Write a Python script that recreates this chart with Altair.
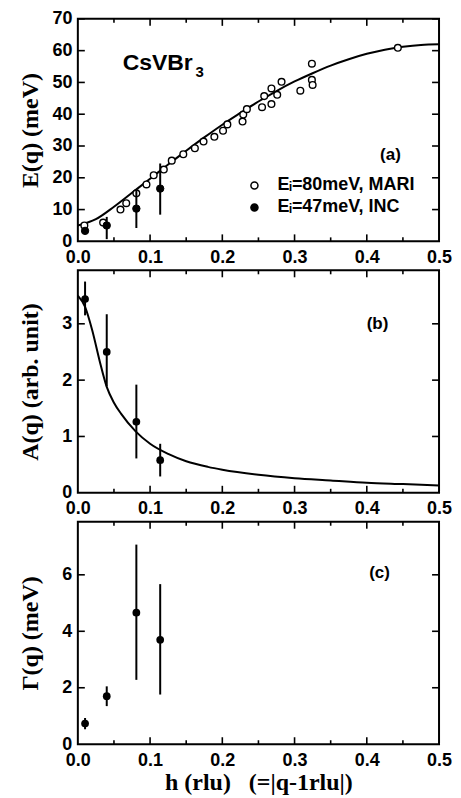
import altair as alt
import pandas as pd

# ---------------- data ----------------
# panel (a): MARI open circles
mari_h = [0.009, 0.035, 0.059, 0.067, 0.081, 0.095, 0.105, 0.119, 0.130, 0.146,
          0.162, 0.174, 0.189, 0.201, 0.207, 0.228, 0.229, 0.234, 0.255, 0.258,
          0.268, 0.268, 0.276, 0.282, 0.308, 0.324, 0.324, 0.325, 0.443]
mari_e = [5.0, 5.9, 10.0, 12.0, 15.1, 17.9, 20.8, 22.6, 25.4, 27.4,
          29.3, 31.4, 32.9, 34.8, 36.8, 37.7, 39.9, 41.6, 42.2, 45.7,
          43.2, 48.1, 46.1, 50.2, 47.4, 55.9, 50.8, 49.2, 60.9]

# INC filled circles (shared h for all panels)
inc_h = [0.010, 0.040, 0.081, 0.114]
inc_e = [3.3, 5.0, 10.3, 16.6]
inc_e_lo = [2.3, 0.7, 4.2, 8.4]
inc_e_hi = [4.3, 7.7, 16.1, 24.5]

# dispersion curve (a)
curve_h = [0.0, 0.025, 0.05, 0.075, 0.1, 0.125, 0.15, 0.175, 0.2, 0.225, 0.25,
           0.275, 0.3, 0.325, 0.35, 0.375, 0.4, 0.425, 0.45, 0.475, 0.5]
curve_e = [5.0, 7.0, 10.9, 15.3, 19.7, 24.2, 28.5, 32.7, 36.7, 40.4, 44.0,
           47.3, 50.3, 52.9, 55.3, 57.3, 59.0, 60.3, 61.2, 61.8, 62.0]

# panel (b): amplitude
amp = [3.44, 2.50, 1.26, 0.58]
amp_lo = [3.15, 1.89, 0.61, 0.29]
amp_hi = [3.75, 3.17, 1.92, 0.87]
amp_curve_h = [0.0, 0.01, 0.02, 0.03, 0.04, 0.05, 0.06, 0.08, 0.10, 0.125, 0.15,
               0.18, 0.2, 0.25, 0.3, 0.35, 0.4, 0.45, 0.5]
amp_curve = [3.5, 3.30, 2.88, 2.35, 1.88, 1.60, 1.40, 1.09, 0.87, 0.69, 0.56,
             0.46, 0.41, 0.32, 0.26, 0.22, 0.18, 0.155, 0.13]

# panel (c): width
gam = [0.73, 1.70, 4.66, 3.70]
gam_lo = [0.53, 1.35, 2.28, 1.76]
gam_hi = [0.93, 2.05, 7.07, 5.67]

series_names = ["E\u1d62=80meV, MARI", "E\u1d62=47meV, INC"]

x_labels = [0.0, 0.1, 0.2, 0.3, 0.4, 0.5]
x_major = [0.1, 0.2, 0.3, 0.4]
x_minor = [0.05, 0.15, 0.25, 0.35, 0.45]
ya_ticks = [0, 10, 20, 30, 40, 50, 60, 70]
yb_ticks = [0, 1, 2, 3]
yc_ticks = [0, 2, 4, 6]

# ---------------- layout ----------------
W, H = 362, 223
SANS = "Liberation Sans"
SERIF = "Liberation Serif"

xs = alt.Scale(domain=[0, 0.5], nice=False, zero=False)

AX_COMMON = dict(ticks=False, tickSize=0, domain=False, grid=False,
                 labelFont=SANS, labelFontWeight="bold", labelFontSize=18,
                 labelColor="black", titleFont=SERIF, titleFontWeight="bold",
                 titleFontSize=24, titleColor="black", labelOverlap=False)


def make_x_axis(title):
    return alt.Axis(values=x_labels, format=".1f", title=title, labelFlush=False,
                    labelPadding=7, titlePadding=1, **AX_COMMON)


def make_y_axis(title, vals):
    return alt.Axis(values=vals, format="d", title=title, minExtent=30, maxExtent=30,
                    labelPadding=6, titlePadding=5, **AX_COMMON)


def make_panel(main_layers_fn, ys, yvals, xaxis, yaxis):
    X = lambda f: alt.X(f, type="quantitative", scale=xs, axis=xaxis)
    Y = lambda f: alt.Y(f, type="quantitative", scale=ys, axis=yaxis)
    layers = main_layers_fn(X, Y)
    dM = pd.DataFrame({"v": x_major})
    dm = pd.DataFrame({"v": x_minor})
    dy = pd.DataFrame({"v": [v for v in yvals if 0 < v]})
    kw = dict(color="black", strokeWidth=1.6)
    for d, ln in [(dM, 7), (dm, 4)]:
        layers.append(alt.Chart(d).mark_rule(**kw).encode(
            x=X("v"), y=alt.value(H), y2=alt.value(H - ln)))
        layers.append(alt.Chart(d).mark_rule(**kw).encode(
            x=X("v"), y=alt.value(0), y2=alt.value(ln)))
    layers.append(alt.Chart(dy).mark_rule(**kw).encode(
        y=Y("v"), x=alt.value(0), x2=alt.value(7)))
    layers.append(alt.Chart(dy).mark_rule(**kw).encode(
        y=Y("v"), x=alt.value(W - 7), x2=alt.value(W)))
    return alt.layer(*layers).properties(
        width=W, height=H, view=alt.ViewBackground(stroke="black", strokeWidth=2))


def label_text(df, X, Y, size, align="center", baseline="middle"):
    return alt.Chart(df).mark_text(font=SANS, fontWeight="bold", fontSize=size,
                                   align=align, baseline=baseline,
                                   color="black").encode(
        x=X("x"), y=Y("y"), text="t:N")


# ---------------- panel (a) ----------------
ysa = alt.Scale(domain=[0, 70], nice=False, zero=False)
df_curve_a = pd.DataFrame({"h": curve_h, "e": curve_e})
df_mari = pd.DataFrame({"h": mari_h, "e": mari_e, "s": series_names[0]})
df_inc = pd.DataFrame({"h": inc_h, "e": inc_e, "lo": inc_e_lo, "hi": inc_e_hi,
                       "s": series_names[1]})
fill_scale = alt.Scale(domain=series_names, range=["white", "black"])
legend_a = alt.Legend(orient="none", legendX=168, legendY=158, title=None,
                      labelFont=SANS, labelFontWeight="bold", labelFontSize=18,
                      labelColor="black", symbolType="circle", symbolSize=50,
                      symbolStrokeColor="black", symbolStrokeWidth=1.5,
                      rowPadding=4, labelOffset=14, padding=0)


def layers_a(X, Y):
    return [
        alt.Chart(df_curve_a).mark_line(color="black", strokeWidth=2,
                                        interpolate="monotone").encode(x=X("h"), y=Y("e")),
        alt.Chart(df_mari).mark_circle(size=45, stroke="black", strokeWidth=1.4,
                                       opacity=1).encode(
            x=X("h"), y=Y("e"), fill=alt.Fill("s:N", scale=fill_scale, legend=legend_a)),
        alt.Chart(df_inc).mark_rule(color="black", strokeWidth=2).encode(
            x=X("h"), y=Y("lo"), y2="hi:Q"),
        alt.Chart(df_inc).mark_circle(size=55, stroke="black", strokeWidth=1,
                                      opacity=1).encode(
            x=X("h"), y=Y("e"), fill=alt.Fill("s:N", scale=fill_scale, legend=legend_a)),
        label_text(pd.DataFrame({"x": [0.062], "y": [53.9], "t": ["CsVBr"]}), X, Y, 23,
                   align="left", baseline="alphabetic"),
        label_text(pd.DataFrame({"x": [0.163], "y": [51.6], "t": ["3"]}), X, Y, 15,
                   align="left", baseline="alphabetic"),
        label_text(pd.DataFrame({"x": [0.4327], "y": [27.3], "t": ["(a)"]}), X, Y, 17),
    ]


panel_a = make_panel(layers_a, ysa, ya_ticks, make_x_axis(None),
                     make_y_axis("E(q) (meV)", ya_ticks))

# ---------------- panel (b) ----------------
ysb = alt.Scale(domain=[0, 3.95], nice=False, zero=False)
df_curve_b = pd.DataFrame({"h": amp_curve_h, "a": amp_curve})
df_b = pd.DataFrame({"h": inc_h, "a": amp, "lo": amp_lo, "hi": amp_hi})


def layers_b(X, Y):
    return [
        alt.Chart(df_curve_b).mark_line(color="black", strokeWidth=2,
                                        interpolate="monotone").encode(x=X("h"), y=Y("a")),
        alt.Chart(df_b).mark_rule(color="black", strokeWidth=2).encode(
            x=X("h"), y=Y("lo"), y2="hi:Q"),
        alt.Chart(df_b).mark_circle(size=60, color="black", opacity=1).encode(
            x=X("h"), y=Y("a")),
        label_text(pd.DataFrame({"x": [0.4148], "y": [2.99], "t": ["(b)"]}), X, Y, 17),
    ]


panel_b = make_panel(layers_b, ysb, yb_ticks, make_x_axis(None),
                     make_y_axis("A(q) (arb. unit)", yb_ticks))

# ---------------- panel (c) ----------------
ysc = alt.Scale(domain=[0, 7.88], nice=False, zero=False)
df_c = pd.DataFrame({"h": inc_h, "g": gam, "lo": gam_lo, "hi": gam_hi})


def layers_c(X, Y):
    return [
        alt.Chart(df_c).mark_rule(color="black", strokeWidth=2).encode(
            x=X("h"), y=Y("lo"), y2="hi:Q"),
        alt.Chart(df_c).mark_circle(size=60, color="black", opacity=1).encode(
            x=X("h"), y=Y("g")),
        label_text(pd.DataFrame({"x": [0.4176], "y": [6.08], "t": ["(c)"]}), X, Y, 17),
    ]


panel_c = make_panel(layers_c, ysc, yc_ticks,
                     make_x_axis("h (rlu)\u00a0\u00a0\u00a0(=|q-1rlu|)"),
                     make_y_axis("\u0393(q) (meV)", yc_ticks))

chart = alt.vconcat(panel_a, panel_b, panel_c, spacing=29, bounds="flush").resolve_scale(
    fill="independent"
).properties(
    padding={"left": 10, "top": 0, "right": 0, "bottom": 0},
    background="white",
).configure_view(
    stroke="black", strokeWidth=2
)

chart.save("out.html", embed_options={"renderer": "svg", "actions": False})
